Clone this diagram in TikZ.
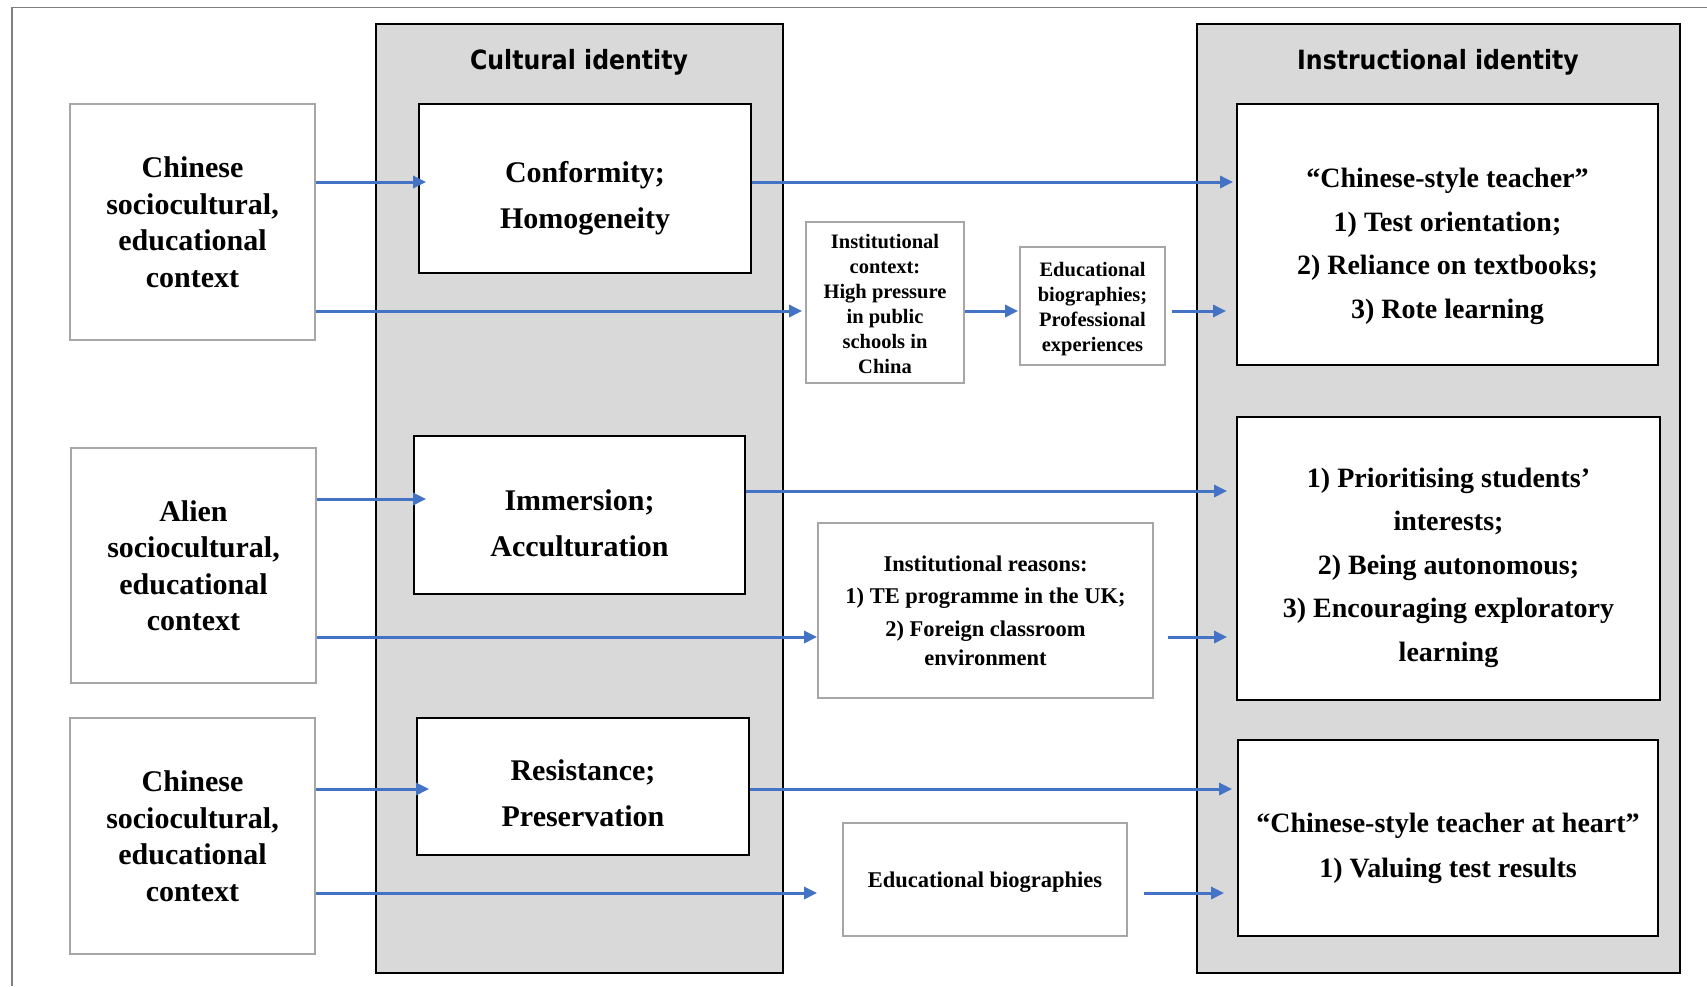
\documentclass[tikz,border=0pt]{standalone}
\usepackage{fontspec}
\setmainfont{Liberation Serif}
\newfontfamily\headfont{DejaVu Sans}[FakeStretch=0.89]
\usetikzlibrary{arrows.meta}
\definecolor{panelgray}{HTML}{D9D9D9}
\definecolor{boxgray}{HTML}{A6A6A6}
\definecolor{framegray}{HTML}{808080}
\definecolor{arrowblue}{HTML}{4472C4}

\begin{document}
\begin{tikzpicture}[x=1pt,y=-1pt,
  panel/.style={draw=black, fill=panelgray, line width=1.6pt, inner sep=0pt},
  srcbox/.style={draw=boxgray, fill=white, line width=1.8pt, inner sep=0pt},
  idbox/.style={draw=black, fill=white, line width=1.8pt, inner sep=0pt},
  head/.style={font=\headfont\bfseries\fontsize{26.5}{30}\selectfont, inner sep=0pt, anchor=base},
  srctext/.style={align=center, inner sep=0pt, font=\bfseries\fontsize{30}{36.5}\selectfont},
  cultext/.style={align=center, inner sep=0pt, font=\bfseries\fontsize{30}{45.5}\selectfont},
  instext/.style={align=center, inner sep=0pt, font=\bfseries\fontsize{28}{43.5}\selectfont},
  smalltext/.style={align=center, inner sep=0pt, font=\bfseries\fontsize{20.5}{25}\selectfont},
  midtext/.style={align=center, inner sep=0pt, font=\bfseries\fontsize{22.5}{28.5}\selectfont},
  arr/.style={draw=arrowblue, line width=3pt, -{Triangle[length=13pt,width=12pt]}}
]
\useasboundingbox (0,0) rectangle (1707,986);

% outer frame (top and left edges)
\draw[framegray, line width=1.8pt] (12,986) -- (12,7.5) -- (1707,7.5);

% the two identity panels
\node[panel, minimum width=407, minimum height=949] (CI) at (579.5,498.5) {};
\node[panel, minimum width=483, minimum height=949] (II) at (1438.5,498.5) {};
\node[head] (CIt) at (579,69.3) {Cultural identity};
\node[head] (IIt) at (1438,69.3) {Instructional identity};

% sociocultural contexts
\node[srcbox, minimum width=245, minimum height=236] (L1) at (192.5,222) {};
\node[srcbox, minimum width=245, minimum height=235] (L2) at (193.5,565.5) {};
\node[srcbox, minimum width=245, minimum height=236] (L3) at (192.5,836) {};
\node[srctext] (L1t) at (L1.center) {Chinese\\sociocultural,\\educational\\context};
\node[srctext] (L2t) at (L2.center) {Alien\\sociocultural,\\educational\\context};
\node[srctext] (L3t) at (L3.center) {Chinese\\sociocultural,\\educational\\context};

% cultural identity boxes
\node[idbox, minimum width=332, minimum height=169] (C1) at (585,188.5) {};
\node[idbox, minimum width=331, minimum height=158] (C2) at (579.5,515) {};
\node[idbox, minimum width=332, minimum height=137] (C3) at (583,786.5) {};
\node[cultext, yshift=-9.5pt] (C1t) at (C1.center) {Conformity;\\Homogeneity};
\node[cultext, yshift=-8.2pt] (C2t) at (C2.center) {Immersion;\\Acculturation};
\node[cultext, yshift=-6.8pt] (C3t) at (C3.center) {Resistance;\\Preservation};

% mediating factors
\node[srcbox, minimum width=158, minimum height=161] (M1) at (885,302.5) {};
\node[srcbox, minimum width=145, minimum height=118] (M2) at (1092.5,306) {};
\node[srcbox, minimum width=335, minimum height=175] (M3) at (985.5,610.5) {};
\node[srcbox, minimum width=284, minimum height=113] (M4) at (985,879.5) {};
\node[smalltext, yshift=-1pt] (M1t) at (M1.center) {Institutional\\context:\\High pressure\\in public\\schools in\\China};
\node[smalltext, yshift=-2.6pt] (M2t) at (M2.center) {Educational\\biographies;\\Professional\\experiences};
\node[midtext, yshift=-0.5pt] (M3t) at (M3.center) {Institutional reasons:\\[3pt]1) TE programme in the UK;\\[5pt]2) Foreign classroom\\environment};
\node[midtext, anchor=base] (M4t) at (985,887) {Educational biographies};

% instructional identity boxes
\node[idbox, minimum width=421, minimum height=261] (R1) at (1447.5,234.5) {};
\node[idbox, minimum width=423, minimum height=283] (R2) at (1448.5,558.5) {};
\node[idbox, minimum width=420, minimum height=196] (R3) at (1448,838) {};
\node[instext, yshift=-12pt] (R1t) at (R1.center) {“Chinese-style teacher”\\1) Test orientation;\\2) Reliance on textbooks;\\3) Rote learning};
\node[instext, yshift=-9pt] (R2t) at (R2.center) {1) Prioritising students’\\interests;\\2) Being autonomous;\\3) Encouraging exploratory\\learning};
\node[instext, font=\bfseries\fontsize{28}{45}\selectfont, yshift=-10pt] (R3t) at (R3.center) {“Chinese-style teacher at heart”\\1) Valuing test results};

% arrow rows
\coordinate (y1) at (0,182);
\coordinate (y2) at (0,311);
\coordinate (y3) at (0,499);
\coordinate (y4) at (0,491);
\coordinate (y5) at (0,637);
\coordinate (y6) at (0,789);
\coordinate (y7) at (0,893);

% connectors
\draw[arr, shorten >=-8pt] (L1.east |- y1) -- (C1.west |- y1);
\draw[arr, shorten >=3pt] (L1.east |- y2) -- (M1.west |- y2);
\draw[arr, shorten >=3pt] (C1.east |- y1) -- (R1.west |- y1);
\draw[arr, shorten >=1pt] (M1.east |- y2) -- (M2.west |- y2);
\draw[arr, shorten <=6pt, shorten >=10pt] (M2.east |- y2) -- (R1.west |- y2);

\draw[arr, shorten >=-13pt] (L2.east |- y3) -- (C2.west |- y3);
\draw[arr, shorten >=9pt] (C2.east |- y4) -- (R2.west |- y4);
\draw[arr] (L2.east |- y5) -- (M3.west |- y5);
\draw[arr, shorten <=14pt, shorten >=9pt] (M3.east |- y5) -- (R2.west |- y5);

\draw[arr, shorten >=-13pt] (L3.east |- y6) -- (C3.west |- y6);
\draw[arr, shorten >=5pt] (C3.east |- y6) -- (R3.west |- y6);
\draw[arr, shorten >=25pt] (L3.east |- y7) -- (M4.west |- y7);
\draw[arr, shorten <=16pt, shorten >=13pt] (M4.east |- y7) -- (R3.west |- y7);
\end{tikzpicture}
\end{document}
